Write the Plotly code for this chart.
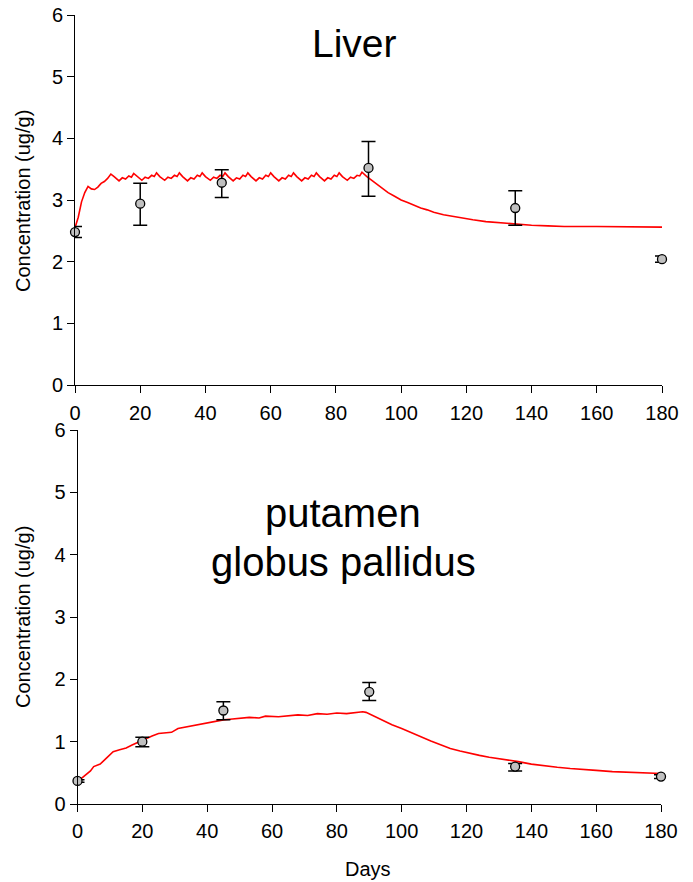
import plotly.graph_objects as go

# ---------------- data ----------------
# Liver: observed points
liver_days = [0, 20, 45, 90, 135, 180]
liver_conc = [2.48, 2.94, 3.28, 3.52, 2.87, 2.04]
liver_err_plus = [0.09, 0.33, 0.21, 0.43, 0.28, 0.05]
liver_err_minus = [0.09, 0.35, 0.24, 0.46, 0.28, 0.05]

# Liver: model curve
liver_model_days = [0, 1, 2, 3, 4, 5, 6, 7, 8, 9, 10, 11, 12, 13.5,
                    14.5, 15.5, 16.5, 17.3, 18, 19, 20.5,
                    21.5, 22.5, 23.5, 24.3, 25, 26, 27.5,
                    28.5, 29.5, 30.5, 31.3, 32, 33, 34.5,
                    35.5, 36.5, 37.5, 38.3, 39, 40, 41.5,
                    42.5, 43.5, 44.5, 45.3, 46, 47, 48.5,
                    49.5, 50.5, 51.5, 52.3, 53, 54, 55.5,
                    56.5, 57.5, 58.5, 59.3, 60, 61, 62.5,
                    63.5, 64.5, 65.5, 66.3, 67, 68, 69.5,
                    70.5, 71.5, 72.5, 73.3, 74, 75, 76.5,
                    77.5, 78.5, 79.5, 80.3, 81, 82, 83.5,
                    84.5, 85.5, 86.5, 87.3, 88, 89.5,
                    92, 94, 96, 98, 100, 102, 104, 106, 108, 110, 113, 116,
                    119, 122, 126, 130, 135, 140, 145, 150, 160, 170, 180]
liver_model_conc = [2.55, 2.72, 2.97, 3.12, 3.22, 3.18, 3.17, 3.21, 3.27, 3.30, 3.35, 3.42, 3.38, 3.31,
                    3.36, 3.34, 3.39, 3.37, 3.43, 3.38, 3.32,
                    3.37, 3.35, 3.40, 3.38, 3.44, 3.38, 3.32,
                    3.37, 3.35, 3.40, 3.38, 3.44, 3.38, 3.31,
                    3.36, 3.34, 3.40, 3.38, 3.44, 3.38, 3.32,
                    3.37, 3.35, 3.40, 3.38, 3.44, 3.38, 3.31,
                    3.36, 3.34, 3.40, 3.38, 3.44, 3.38, 3.31,
                    3.36, 3.34, 3.40, 3.38, 3.44, 3.38, 3.31,
                    3.36, 3.34, 3.40, 3.38, 3.44, 3.38, 3.31,
                    3.36, 3.34, 3.40, 3.38, 3.44, 3.38, 3.31,
                    3.36, 3.34, 3.40, 3.38, 3.44, 3.38, 3.32,
                    3.37, 3.35, 3.40, 3.39, 3.45, 3.38,
                    3.28, 3.20, 3.12, 3.06, 3.00, 2.96, 2.91, 2.87, 2.84, 2.80, 2.76, 2.73,
                    2.70, 2.68, 2.65, 2.63, 2.61, 2.59, 2.58, 2.57, 2.57, 2.565, 2.56]

# Putamen / globus pallidus: observed points
brain_days = [0, 20, 45, 90, 135, 180]
brain_conc = [0.37, 1.00, 1.50, 1.80, 0.60, 0.44]
brain_err_plus = [0.02, 0.07, 0.14, 0.15, 0.05, 0.03]
brain_err_minus = [0.02, 0.08, 0.15, 0.14, 0.07, 0.03]

# Putamen / globus pallidus: model curve
brain_model_days = [0, 2, 4, 5, 7, 9, 11, 13, 15, 17, 19, 21, 23, 25, 27, 29, 31, 33, 35, 37,
                    39, 41, 43, 45, 47, 50, 53, 56, 58, 62, 65, 68, 71, 74, 77, 80, 83, 86,
                    88, 89, 91, 94, 97, 100, 103, 106, 109, 112, 115, 118, 121, 124, 127,
                    130, 133, 136, 140, 144, 148, 152, 156, 160, 165, 170, 175, 180]
brain_model_conc = [0.36, 0.45, 0.53, 0.60, 0.64, 0.74, 0.84, 0.87, 0.90, 0.95, 1.00, 1.04, 1.09,
                    1.13, 1.14, 1.15, 1.21, 1.23, 1.26, 1.28, 1.30, 1.32, 1.33, 1.35, 1.36,
                    1.37, 1.39, 1.38, 1.41, 1.40, 1.42, 1.43, 1.42, 1.45, 1.44, 1.46, 1.45,
                    1.47, 1.48, 1.47, 1.42, 1.34, 1.27, 1.21, 1.14, 1.07, 1.01, 0.95, 0.89,
                    0.85, 0.81, 0.78, 0.75, 0.73, 0.71, 0.68, 0.64, 0.61, 0.59, 0.57, 0.56,
                    0.54, 0.52, 0.51, 0.50, 0.49]

x_ticks = [0, 20, 40, 60, 80, 100, 120, 140, 160, 180]
y_ticks = [0, 1, 2, 3, 4, 5, 6]

# ---------------- figure ----------------
W, H = 693, 882
FONT = "Liberation Sans, Arial, sans-serif"
RED = "#ff0000"

fig = go.Figure()

def add_panel(xa, ya, mdays, mconc, days, conc, ep, em):
    fig.add_trace(go.Scatter(x=mdays, y=mconc, mode="lines",
                             line=dict(color=RED, width=1.6),
                             xaxis=xa, yaxis=ya, showlegend=False, hoverinfo="skip"))
    fig.add_trace(go.Scatter(x=days, y=conc, mode="markers",
                             marker=dict(size=9, color="#c0c0c0",
                                         line=dict(color="black", width=1.3)),
                             error_y=dict(type="data", array=ep, arrayminus=em,
                                          symmetric=False, color="black",
                                          thickness=1.5, width=7),
                             cliponaxis=False,
                             xaxis=xa, yaxis=ya, showlegend=False))

add_panel("x", "y", liver_model_days, liver_model_conc,
          liver_days, liver_conc, liver_err_plus, liver_err_minus)
add_panel("x2", "y2", brain_model_days, brain_model_conc,
          brain_days, brain_conc, brain_err_plus, brain_err_minus)

top_xdom = [75 / W, 662 / W]
bot_xdom = [77.5 / W, 661 / W]
top_dom = [(H - 385) / H, (H - 15) / H]
bot_dom = [(H - 804) / H, (H - 430) / H]

axis_common = dict(showline=True, linecolor="black", linewidth=1,
                   ticks="outside", tickcolor="black", ticklen=7, tickwidth=1,
                   showgrid=False, zeroline=False, automargin=False,
                   tickfont=dict(family=FONT, size=20, color="black"))

fig.update_layout(
    width=W, height=H,
    margin=dict(l=0, r=0, t=0, b=0),
    paper_bgcolor="white", plot_bgcolor="white",
    font=dict(family=FONT, color="black"),
    xaxis=dict(domain=top_xdom, anchor="y", range=[0, 180], tickvals=x_ticks,
               ticklabelstandoff=3, **axis_common),
    yaxis=dict(domain=top_dom, anchor="x", range=[0, 6], tickvals=y_ticks, **axis_common),
    xaxis2=dict(domain=bot_xdom, anchor="y2", range=[0, 180], tickvals=x_ticks,
                ticklabelstandoff=2, **axis_common),
    yaxis2=dict(domain=bot_dom, anchor="x2", range=[0, 6], tickvals=y_ticks, **axis_common),
)

annotations = [
    dict(text="Liver", x=354 / W, y=(H - 43) / H, xref="paper", yref="paper",
         showarrow=False, font=dict(family=FONT, size=39, color="black"),
         xanchor="center", yanchor="middle"),
    dict(text="putamen", x=343 / W, y=(H - 513) / H, xref="paper", yref="paper",
         showarrow=False, font=dict(family=FONT, size=40, color="black"),
         xanchor="center", yanchor="middle"),
    dict(text="globus pallidus", x=343 / W, y=(H - 562) / H, xref="paper", yref="paper",
         showarrow=False, font=dict(family=FONT, size=40, color="black"),
         xanchor="center", yanchor="middle"),
    dict(text="Concentration (ug/g)", x=23 / W, y=(H - 201) / H, xref="paper", yref="paper",
         showarrow=False, textangle=-90, font=dict(family=FONT, size=20, color="black"),
         xanchor="center", yanchor="middle"),
    dict(text="Concentration (ug/g)", x=23 / W, y=(H - 617) / H, xref="paper", yref="paper",
         showarrow=False, textangle=-90, font=dict(family=FONT, size=20, color="black"),
         xanchor="center", yanchor="middle"),
    dict(text="Days", x=368 / W, y=(H - 869) / H, xref="paper", yref="paper",
         showarrow=False, font=dict(family=FONT, size=20, color="black"),
         xanchor="center", yanchor="middle"),
]
fig.update_layout(annotations=annotations)

fig.write_html("out.html", config={"displayModeBar": False},
               post_script="document.body.style.margin='0px';document.body.style.overflow='hidden';")
